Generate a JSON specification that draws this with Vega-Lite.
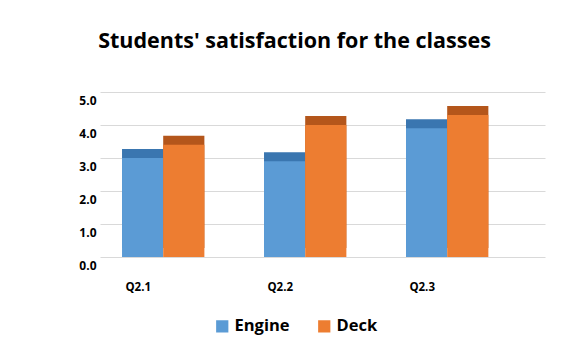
{
  "$schema": "https://vega.github.io/schema/vega-lite/v6.json",
  "width": 445,
  "height": 165,
  "autosize": "none",
  "padding": {"left": 100, "top": 92, "right": 37, "bottom": 95},
  "background": "white",
  "title": {
    "text": "Students' satisfaction for the classes",
    "font": "Open Sans",
    "fontSize": 21.5,
    "fontWeight": "bold",
    "color": "#000000",
    "anchor": "middle",
    "dx": -28,
    "offset": 40
  },
  "data": {
    "values": [
      {"question": "Q2.1", "group": "Engine", "value": 3.0},
      {"question": "Q2.1", "group": "Deck", "value": 3.4},
      {"question": "Q2.2", "group": "Engine", "value": 2.9},
      {"question": "Q2.2", "group": "Deck", "value": 4.0},
      {"question": "Q2.3", "group": "Engine", "value": 3.9},
      {"question": "Q2.3", "group": "Deck", "value": 4.3}
    ]
  },
  "encoding": {
    "x": {
      "field": "question",
      "type": "nominal",
      "scale": {"paddingInner": 0.42, "paddingOuter": 0.277, "align": 0.28},
      "axis": {
        "title": null,
        "labelAngle": 0,
        "domain": false,
        "ticks": false,
        "labelPadding": 24,
        "labelOffset": -25,
        "labelFont": "Open Sans",
        "labelFontWeight": "bold",
        "labelFontSize": 11.5,
        "labelColor": "#000000"
      }
    },
    "xOffset": {"field": "group", "type": "nominal", "sort": ["Engine", "Deck"], "scale": {"paddingInner": 0}},
    "y": {
      "field": "value",
      "type": "quantitative",
      "scale": {"domain": [0, 5]},
      "axis": {
        "title": null,
        "values": [0, 1, 2, 3, 4, 5],
        "format": ".1f",
        "domain": false,
        "ticks": false,
        "labelPadding": 4,
        "labelOffset": 8,
        "labelFont": "Open Sans",
        "labelFontWeight": "bold",
        "labelFontSize": 12,
        "labelColor": "#000000",
        "gridColor": "#d9d9d9",
        "gridWidth": 1
      }
    }
  },
  "layer": [
    {
      "mark": {"type": "bar", "xOffset": 10, "yOffset": -9},
      "encoding": {
        "color": {
          "field": "group",
          "type": "nominal",
          "sort": ["Engine", "Deck"],
          "scale": {"domain": ["Engine", "Deck"], "range": ["#3a76b0", "#b4561b"]},
          "legend": null
        }
      }
    },
    {
      "mark": {"type": "bar"},
      "encoding": {
        "color": {
          "field": "group",
          "type": "nominal",
          "sort": ["Engine", "Deck"],
          "scale": {"domain": ["Engine", "Deck"], "range": ["#5b9bd5", "#ed7d31"]},
          "legend": {
            "title": null,
            "orient": "none",
            "direction": "horizontal",
            "legendX": 114,
            "legendY": 226,
            "symbolType": "square",
            "symbolSize": 150,
            "symbolStrokeWidth": 0,
            "labelFont": "Open Sans",
            "labelFontWeight": "bold",
            "labelFontSize": 16.5,
            "labelColor": "#000000",
            "columnPadding": 26
          }
        }
      }
    }
  ],
  "resolve": {"scale": {"color": "independent"}},
  "config": {"view": {"stroke": null}}
}
